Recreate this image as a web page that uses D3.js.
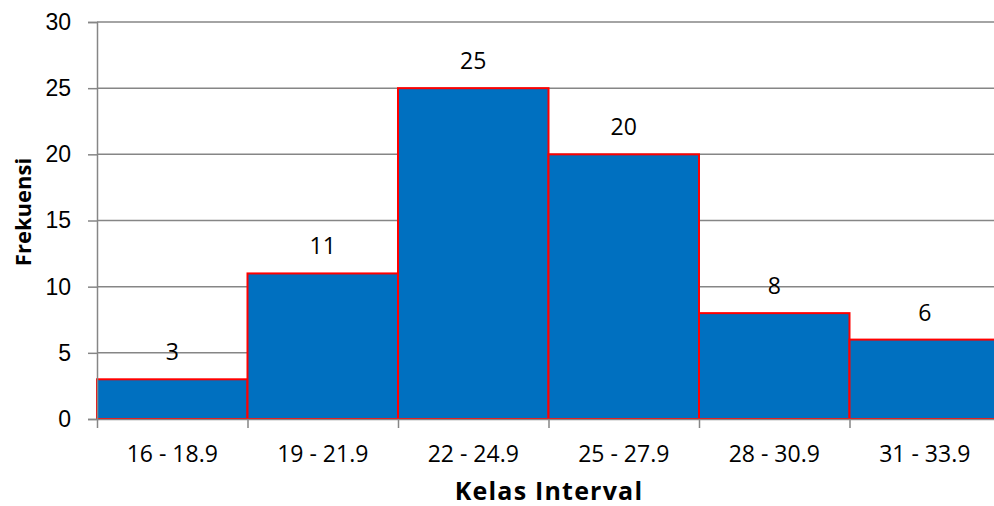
<!DOCTYPE html>
<html>
<head>
<meta charset="utf-8">
<script src="https://cdn.jsdelivr.net/npm/d3@7"></script>
<style>
body { margin: 0; background: #fff; }
svg { display: block; font-family: 'Open Sans', sans-serif; }
.axis text { font-size: 23px; fill: #000; }
.axis path, .axis line { stroke: #868686; }
</style>
</head>
<body>
<svg id="chart"></svg>
<script>
var categories = ['16 - 18.9', '19 - 21.9', '22 - 24.9', '25 - 27.9', '28 - 30.9', '31 - 33.9'];
var frekuensi = [3, 11, 25, 20, 8, 6];
var yTicks = [0, 5, 10, 15, 20, 25, 30];

var width = 994;
var height = 506;
var mLeft = 97;
var mRight = 1000;
var mTop = 22;
var mBottom = 419;

var svg = d3.select('#chart')
	.attr('width', width)
	.attr('height', height);

var x = d3.scaleBand()
	.domain(categories)
	.range([mLeft, mRight])
	.padding(0);

var y = d3.scaleLinear()
	.domain([0, 30])
	.range([mBottom, mTop]);

// gridlines
svg.append('g')
	.selectAll('line')
	.data(yTicks)
	.enter()
	.append('line')
	.attr('x1', mLeft)
	.attr('x2', mRight)
	.attr('y1', d => y(d))
	.attr('y2', d => y(d))
	.attr('stroke', '#868686')
	.attr('stroke-width', 1.5);

// bars
svg.append('g')
	.selectAll('rect')
	.data(frekuensi)
	.enter()
	.append('rect')
	.attr('x', (d, i) => x(categories[i]))
	.attr('y', d => y(d))
	.attr('width', x.bandwidth())
	.attr('height', d => y(0) - y(d))
	.attr('fill', '#0070C0')
	.attr('stroke', '#FF0000')
	.attr('stroke-width', 2);

// value labels
svg.append('g')
	.selectAll('text')
	.data(frekuensi)
	.enter()
	.append('text')
	.text(d => d)
	.attr('x', (d, i) => x(categories[i]) + x.bandwidth() / 2)
	.attr('y', d => y(d) - 19)
	.attr('text-anchor', 'middle')
	.style('font-size', '23px');

var yAxis = d3.axisLeft(y)
	.tickValues(yTicks)
	.tickSize(9)
	.tickPadding(17);

svg.append('g')
	.attr('class', 'axis')
	.attr('transform', `translate(${mLeft},0)`)
	.call(yAxis)
	.call(g => g.select('.domain').attr('stroke-width', 1.5))
	.call(g => g.selectAll('.tick line').attr('stroke-width', 1.5));

var xAxis = d3.axisBottom(d3.scaleLinear().domain([0, 6]).range([mLeft, mRight]))
	.tickValues(d3.range(0, 7))
	.tickFormat('')
	.tickSize(9)
	.tickSizeOuter(0);

svg.append('g')
	.attr('class', 'axis')
	.attr('transform', `translate(0,${mBottom})`)
	.call(xAxis)
	.call(g => g.select('.domain').attr('stroke-width', 1.5))
	.call(g => g.selectAll('.tick line').attr('stroke-width', 1.5));

// category labels
svg.append('g')
	.selectAll('text')
	.data(categories)
	.enter()
	.append('text')
	.text(d => d)
	.attr('x', d => x(d) + x.bandwidth() / 2)
	.attr('y', 462)
	.attr('text-anchor', 'middle')
	.style('font-size', '23px');

svg.append('text')
	.text('Kelas Interval')
	.attr('x', 549)
	.attr('y', 500)
	.attr('text-anchor', 'middle')
	.style('font-size', '25px')
	.style('letter-spacing', '1.2px')
	.style('font-weight', 700);

svg.append('text')
	.text('Frekuensi')
	.attr('transform', 'translate(31,212) rotate(-90)')
	.attr('text-anchor', 'middle')
	.style('font-size', '22px')
	.style('font-weight', 700);
</script>
</body>
</html>
